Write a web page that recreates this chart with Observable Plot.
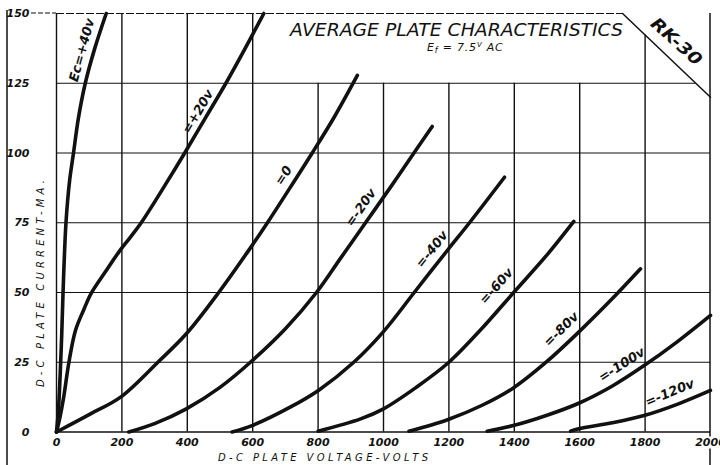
<!DOCTYPE html>
<html><head><meta charset="utf-8">
<script src="https://cdn.jsdelivr.net/npm/d3@7"></script>
<script src="https://cdn.jsdelivr.net/npm/@observablehq/plot@0.6"></script>
<style>
body{margin:0;background:#fff;}
svg{display:block}
</style></head><body><div id="chart"></div>
<script>
// ---- data ----
const xTickValues = [0,200,400,600,800,1000,1200,1400,1600,1800,2000];
const yTickValues = [0,25,50,75,100,125,150];
const gridVolts = [0,200,400,600,800,1000,1200,1400,1600,1800];
const gridMA = [25,50,75,100,125];

const ecP40 = [[0,0],[6,8],[11,20],[16,35],[20,50],[29,75],[40,90],[52,100],[67,112.5],[88,125],[117,137.5],[152,150]];
const ecP20 = [[0,0],[10,5],[22,12.5],[38,25],[58,36.4],[84,44],[106,49.7],[150,57.5],[190,64.4],[225,69.7],[259,75],[340,90],[392,100],[455,112.5],[518,125],[577,137.5],[634,150]];
const ec0   = [[0,0],[104,6.5],[196,12.5],[310,25],[397,35.2],[496,50],[593,66],[645,75],[714,87.5],[782,100],[850,113],[920,127.8]];
const ecM20 = [[221,0],[300,3],[397,8.3],[500,16],[593,25],[700,37],[795,50],[870,62.5],[945,75],[1020,87.5],[1093,100],[1149,109.5]];
const ecM40 = [[537,0],[598,2.3],[716,9],[802,15],[909,25],[1000,36],[1094,50],[1198,65.5],[1263,75],[1370,91.3]];
const ecM60 = [[800,0.3],[930,4.7],[1000,8.3],[1100,16],[1200,25],[1300,37],[1398,50],[1500,63.5],[1582,75.5]];
const ecM80 = [[1078,0.3],[1198,4.5],[1300,9.5],[1397,15.8],[1500,25.3],[1597,35.8],[1694,47.1],[1786,58.5]];
const ecM100 = [[1317,0.3],[1397,2.3],[1500,6],[1597,10.3],[1700,16.5],[1797,23.8],[1900,32.5],[2000,41.8]];
const ecM120 = [[1572,0.3],[1597,1.2],[1700,3.3],[1797,5.9],[1900,10],[2000,14.9]];

const gridBiases = ["+40","+20","0","-20","-40","-60","-80","-100","-120"];
const curveLabels = ["Ec=+40v","=+20v","=0","=-20v","=-40v","=-60v","=-80v","=-100v","=-120v"];
const labelVolts = [84,438,700,936,1153,1350,1548,1732,1878];
const labelMA = [136.7,114.5,91.5,80,65,51.8,36.3,23.5,13.4];

// title box corner (diagonal cut) and left edge of the title box
const cornerVolts = [1731,2000];
const cornerMA = [150,120];
const titleBoxLeftVolts = 600;
const titleBoxBottomMA = 125;

const titleText = "AVERAGE PLATE CHARACTERISTICS";
const tubeName = "RK-30";
const xAxisLabel = "D-C PLATE VOLTAGE-VOLTS";
const yAxisLabel = "D-C PLATE CURRENT-MA.";

// ---- build ----
const curves = [ecP40,ecP20,ec0,ecM20,ecM40,ecM60,ecM80,ecM100,ecM120];
const rows = curves.flatMap((c,k)=>c.map(([v,i])=>({v,i,ec:gridBiases[k]})));

const W=720,H=465, mL=56, mR=10, mT=13, mB=33.5;
const sx = d3.scaleLinear([0,2000],[mL,W-mR]);
const sy = d3.scaleLinear([0,150],[H-mB,mT]);

const diagV = i => cornerVolts[0] + (cornerMA[0]-i)/(cornerMA[0]-cornerMA[1])*(cornerVolts[1]-cornerVolts[0]);
const diagI = v => cornerMA[0] - (v-cornerVolts[0])/(cornerVolts[1]-cornerVolts[0])*(cornerMA[0]-cornerMA[1]);
const gridTop = v => v <= titleBoxLeftVolts ? 150 : (v > 1600 ? diagI(v) : titleBoxBottomMA);
const gridRight = i => i >= cornerMA[1] ? diagV(i) : 2000;

function angleAt(curve, I){
  for (let k=0;k<curve.length-1;k++){
    const [v1,i1]=curve[k],[v2,i2]=curve[k+1];
    if ((I>=i1 && I<=i2) || k===curve.length-2){
      return Math.atan2(sy(i2)-sy(i1), sx(v2)-sx(v1))*180/Math.PI;
    }
  }
  return 0;
}
const labelGap = 2; // extra px pushed to the upper-left of the curve
const labelRows = curveLabels.map((t,k)=>{
  const a = angleAt(curves[k], labelMA[k]);
  const r = a*Math.PI/180;
  const px = sx(labelVolts[k]) + Math.sin(r)*labelGap;
  const py = sy(labelMA[k]) - Math.cos(r)*labelGap;
  return {t, v:sx.invert(px), i:sy.invert(py), a};
});

const plot = Plot.plot({
  width:W, height:H, marginLeft:mL, marginRight:mR, marginTop:mT, marginBottom:mB,
  x:{domain:[0,2000], ticks:xTickValues, tickSize:0, tickPadding:6, label:null, tickFormat:d=>String(d)},
  y:{domain:[0,150], ticks:yTickValues, tickSize:0, tickPadding:27, label:null},
  style:{fontFamily:"'DejaVu Sans', sans-serif", fontStyle:"italic", fontSize:"11px", color:"#111", background:"#fff", overflow:"visible"},
  marks:[
    Plot.ruleX(gridVolts, {x:d=>d, y1:0, y2:d=>gridTop(d), stroke:"#111", strokeWidth:1.4}),
    Plot.ruleY(gridMA, {y:d=>d, x1:0, x2:d=>gridRight(d), stroke:"#111", strokeWidth:1.1}),
    Plot.ruleY([0], {x1:0, x2:2000, stroke:"#111", strokeWidth:1.6}),
    Plot.ruleY([150], {x1:0, x2:cornerVolts[0], stroke:"#111", strokeWidth:1.1, strokeDasharray:"8,2"}),
    Plot.line(cornerVolts.map((v,k)=>({v,i:cornerMA[k]})), {x:"v", y:"i", stroke:"#111", strokeWidth:1.5}),
    Plot.line(rows, {x:"v", y:"i", z:"ec", curve:"catmull-rom", stroke:"#111", strokeWidth:3.6}),
    Plot.text(labelRows, {x:"v", y:"i", text:"t", rotate:"a", fontSize:13, fontWeight:"bold", fill:"#111", fontStyle:"italic", textAnchor:"middle", lineAnchor:"middle"})
  ]
});
document.getElementById("chart").append(plot);

const svg = d3.select(plot);
svg.selectAll("g[aria-label='x-axis tick label'] text, g[aria-label='y-axis tick label'] text").attr("font-weight","bold");
const ink = "#111";
// page borders
svg.append("line").attr("x1",7).attr("x2",7).attr("y1",10).attr("y2",H).attr("stroke",ink).attr("stroke-width",1.5);
svg.append("line").attr("x1",sx(2000)).attr("x2",sx(2000)).attr("y1",sy(150)).attr("y2",sy(0)+5).attr("stroke",ink).attr("stroke-width",1.5);
svg.append("line").attr("x1",sx(2000)).attr("x2",sx(2000)).attr("y1",sy(0)+17).attr("y2",H).attr("stroke",ink).attr("stroke-width",1.5);
svg.append("line").attr("x1",31).attr("x2",mL).attr("y1",sy(150)).attr("y2",sy(150)).attr("stroke",ink).attr("stroke-width",1.1).attr("stroke-dasharray","5,2");
// title
svg.append("text").attr("text-anchor","start").attr("x",290).attr("y",36).attr("font-size",18).attr("font-style","italic").attr("fill",ink)
  .attr("textLength",333).attr("lengthAdjust","spacingAndGlyphs").text(titleText);
const sub = svg.append("text").attr("text-anchor","start").attr("x",427).attr("y",51).attr("font-size",11).attr("letter-spacing",0.8).attr("font-style","italic").attr("fill",ink);
sub.append("tspan").text("E");
sub.append("tspan").attr("font-size",8).attr("dy",2).text("f");
sub.append("tspan").attr("dy",-2).text(" = 7.5");
sub.append("tspan").attr("font-size",7).attr("dy",-4).text("V");
sub.append("tspan").attr("dy",4).text(" AC");
svg.append("text").attr("transform","translate(676,42) rotate(42)").attr("text-anchor","middle").attr("dominant-baseline","middle")
  .attr("font-size",17).attr("font-style","italic").attr("font-weight","bold").attr("fill",ink).attr("textLength",62).attr("lengthAdjust","spacingAndGlyphs").text(tubeName);
// axis labels
svg.append("text").attr("text-anchor","start").attr("x",218).attr("y",461).attr("font-size",10).attr("font-style","italic").attr("fill",ink)
  .attr("textLength",210).attr("lengthAdjust","spacing").text(xAxisLabel);
svg.append("text").attr("text-anchor","start").attr("transform","translate(44,387) rotate(-90)").attr("font-size",10).attr("font-style","italic").attr("fill",ink)
  .attr("textLength",207).attr("lengthAdjust","spacing").text(yAxisLabel);
</script></body></html>
